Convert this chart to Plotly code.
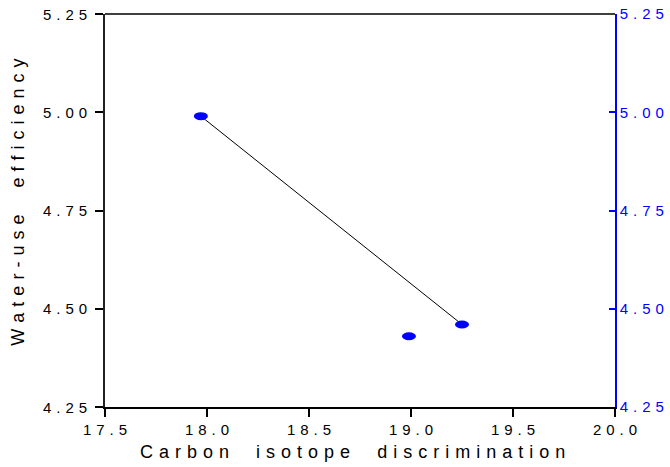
import plotly.graph_objects as go

# Data
x_vals = [17.97, 18.99, 19.25]
y_vals = [4.99, 4.43, 4.46]
line_x = [17.97, 19.25]
line_y = [4.99, 4.46]
x_ticks = [17.5, 18.0, 18.5, 19.0, 19.5, 20.0]
y_ticks = [4.25, 4.50, 4.75, 5.00, 5.25]
x_title = "Carbon isotope discrimination"
y_title = "Water-use efficiency"

SP = "\u2004"
TSP = "\u2004"


def spaced(s, sep=SP):
    return sep.join(list(s))


def spaced_title(s):
    words = s.split(" ")
    return (TSP + "   " + TSP).join(TSP.join(list(w)) for w in words)


FONT = "Liberation Sans, Arial, sans-serif"
BLUE = "#0000ff"

fig = go.Figure()

fig.add_trace(go.Scatter(x=line_x, y=line_y, mode="lines",
                         line=dict(color="black", width=1), showlegend=False,
                         hoverinfo="skip"))
fig.add_trace(go.Scatter(x=x_vals, y=y_vals, mode="markers",
                         marker=dict(color=BLUE, size=1, opacity=0),
                         showlegend=False))
fig.add_trace(go.Scatter(x=x_vals, y=y_vals, mode="markers", yaxis="y2",
                         marker=dict(size=1, opacity=0), showlegend=False,
                         hoverinfo="skip"))

shapes = []
for xv, yv in zip(x_vals, y_vals):
    shapes.append(dict(type="circle", xref="x", yref="y",
                       xsizemode="pixel", ysizemode="pixel",
                       xanchor=xv, yanchor=yv,
                       x0=-7, x1=7, y0=-4, y1=4,
                       fillcolor=BLUE, line=dict(color=BLUE, width=0)))
shapes.append(dict(type="line", xref="paper", yref="paper", x0=0, x1=1, y0=1, y1=1,
                   line=dict(color="black", width=1.5)))

annotations = [
    dict(text=spaced_title(x_title), xref="paper", yref="paper",
         x=0.485, y=0, yshift=-45, showarrow=False, xanchor="center", yanchor="middle",
         font=dict(family=FONT, size=18, color="black")),
    dict(text=spaced_title(y_title), xref="paper", yref="paper",
         x=0, xshift=-87, y=0.52, showarrow=False, textangle=-90,
         xanchor="center", yanchor="middle",
         font=dict(family=FONT, size=18, color="black")),
]
# left tick labels
for v in y_ticks:
    annotations.append(dict(text=spaced(f"{v:.2f}"), xref="paper", yref="y",
                            x=0, y=v, xshift=-16, showarrow=False,
                            xanchor="right", yanchor="middle",
                            font=dict(family=FONT, size=15, color="black")))

fig.update_layout(
    width=670, height=467,
    margin=dict(l=105, r=55, t=14, b=60, autoexpand=False),
    paper_bgcolor="white", plot_bgcolor="white",
    font=dict(family=FONT, size=15, color="black"),
    shapes=shapes,
    xaxis=dict(range=[17.5, 20.0], tickvals=x_ticks,
               ticktext=[spaced(f"{v:.1f}") for v in x_ticks],
               ticks="outside", ticklen=8, tickwidth=1.5, tickcolor="black",
               showline=True, linecolor="black", linewidth=1.5,
               showgrid=False, zeroline=False, automargin=False,
               tickfont=dict(family=FONT, size=15, color="black")),
    yaxis=dict(range=[4.25, 5.25], tickvals=y_ticks, showticklabels=False,
               ticks="outside", ticklen=8, tickwidth=1.5, tickcolor="black",
               showline=True, linecolor="#222222", linewidth=1.5,
               showgrid=False, zeroline=False, automargin=False),
    yaxis2=dict(range=[4.25, 5.25], tickvals=y_ticks, overlaying="y", side="right",
                ticktext=[spaced(f"{v:.2f}") for v in y_ticks],
                ticks="inside", ticklen=6, tickwidth=1.5, tickcolor=BLUE,
                showline=True, linecolor=BLUE, linewidth=1.5,
                showgrid=False, zeroline=False, automargin=False,
                tickfont=dict(family=FONT, size=15, color=BLUE)),
    annotations=annotations,
)

fig.write_html("out.html")
